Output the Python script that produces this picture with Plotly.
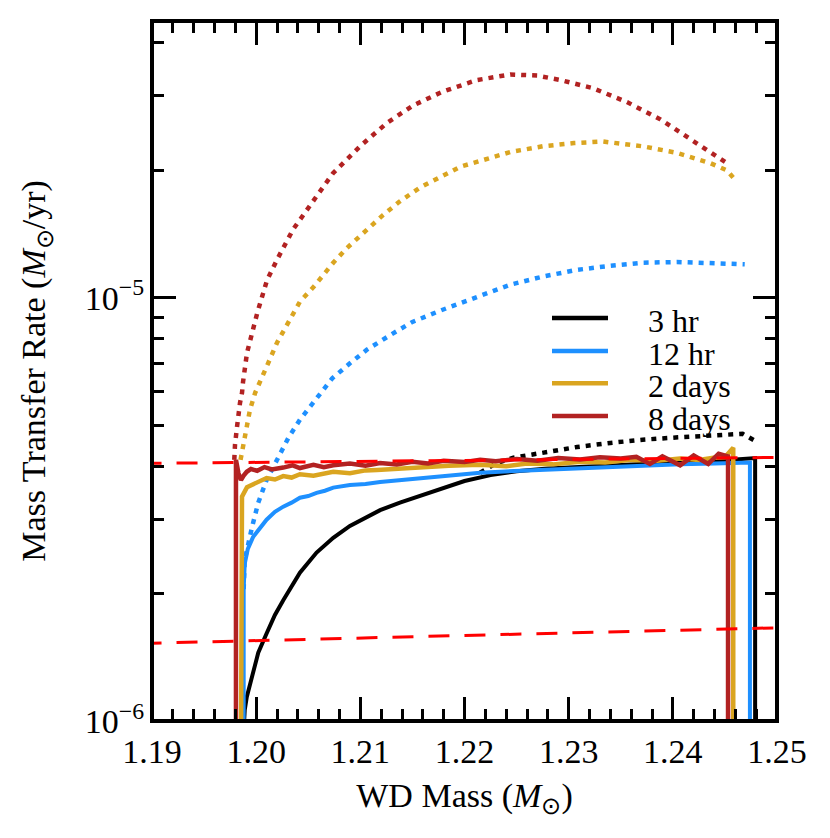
import plotly.graph_objects as go

# ---------------- data ----------------
# 3 hr
hr3_solid_x = [1.1988, 1.1989, 1.1991, 1.1994, 1.1997, 1.2002, 1.2010, 1.2018, 1.2026, 1.2034,
               1.2042, 1.2058, 1.2074, 1.2090, 1.2106, 1.2119, 1.2138, 1.2157, 1.2167, 1.2185,
               1.2200, 1.2225, 1.2250, 1.2280, 1.2320, 1.2360, 1.2400, 1.2450, 1.2478, 1.2479, 1.2479]
hr3_solid_y = [0.95e-6, 1.06e-6, 1.14e-6, 1.22e-6, 1.30e-6, 1.45e-6, 1.61e-6, 1.78e-6, 1.93e-6, 2.08e-6,
               2.24e-6, 2.50e-6, 2.71e-6, 2.89e-6, 3.04e-6, 3.15e-6, 3.28e-6, 3.40e-6, 3.47e-6, 3.59e-6,
               3.69e-6, 3.81e-6, 3.89e-6, 3.95e-6, 4.00e-6, 4.04e-6, 4.08e-6, 4.13e-6, 4.18e-6, 4.18e-6, 0.95e-6]
hr3_dot_x = [1.2215, 1.2230, 1.2247, 1.2280, 1.2308, 1.2340, 1.2371, 1.2405, 1.2436, 1.2467, 1.2479]
hr3_dot_y = [3.86e-6, 4.06e-6, 4.19e-6, 4.32e-6, 4.44e-6, 4.54e-6, 4.62e-6, 4.68e-6, 4.72e-6, 4.77e-6, 4.59e-6]

# 12 hr
hr12_solid_x = [1.1988, 1.1988, 1.1989, 1.1992, 1.1997, 1.2004, 1.2010, 1.2018, 1.2026, 1.2034,
                1.2042, 1.2050, 1.2058, 1.2066, 1.2074, 1.2090, 1.2105, 1.2119, 1.2150, 1.2180,
                1.2215, 1.2260, 1.2311, 1.2360, 1.2407, 1.2440, 1.2471, 1.2474, 1.2474]
hr12_solid_y = [0.95e-6, 2.05e-6, 2.35e-6, 2.55e-6, 2.72e-6, 2.86e-6, 2.99e-6, 3.12e-6, 3.21e-6, 3.28e-6,
                3.37e-6, 3.40e-6, 3.46e-6, 3.50e-6, 3.56e-6, 3.61e-6, 3.63e-6, 3.67e-6, 3.73e-6, 3.80e-6,
                3.86e-6, 3.91e-6, 3.96e-6, 4.00e-6, 4.04e-6, 4.06e-6, 4.08e-6, 4.08e-6, 0.95e-6]
hr12_dot_x = [1.1988, 1.1989, 1.1996, 1.2002, 1.2010, 1.2020, 1.2031, 1.2042, 1.2055, 1.2073,
              1.2090, 1.2106, 1.2130, 1.2150, 1.2179, 1.2212, 1.2244, 1.2275, 1.2308, 1.2340,
              1.2371, 1.2404, 1.2436, 1.2469]
hr12_dot_y = [2.05e-6, 2.40e-6, 2.87e-6, 3.28e-6, 3.71e-6, 4.14e-6, 4.67e-6, 5.15e-6, 5.68e-6, 6.45e-6,
              7.00e-6, 7.53e-6, 8.20e-6, 8.77e-6, 9.37e-6, 1.005e-5, 1.074e-5, 1.122e-5, 1.164e-5, 1.19e-5,
              1.21e-5, 1.215e-5, 1.21e-5, 1.20e-5]

# 2 days
d2_solid_x = [1.19855, 1.19855, 1.19864, 1.19912, 1.2001, 1.2010, 1.2018, 1.2026, 1.2034, 1.2042,
              1.2055, 1.2074, 1.2090, 1.2105, 1.2116, 1.2135, 1.2160, 1.2185, 1.2215, 1.2240,
              1.2260, 1.2285, 1.2311, 1.2335, 1.2360, 1.2385, 1.2407, 1.2425, 1.2439, 1.2450,
              1.2458, 1.2458]
d2_solid_y = [0.95e-6, 3.10e-6, 3.39e-6, 3.57e-6, 3.67e-6, 3.75e-6, 3.72e-6, 3.79e-6, 3.76e-6, 3.83e-6,
              3.80e-6, 3.88e-6, 3.85e-6, 3.91e-6, 3.92e-6, 3.95e-6, 3.97e-6, 4.01e-6, 4.03e-6, 4.00e-6,
              4.06e-6, 4.04e-6, 4.10e-6, 4.08e-6, 4.14e-6, 4.12e-6, 4.17e-6, 4.14e-6, 4.19e-6, 4.20e-6,
              4.42e-6, 0.95e-6]
d2_dot_x = [1.1985, 1.19874, 1.19912, 1.1994, 1.1999, 1.2003, 1.2010, 1.2020, 1.2030, 1.2042,
            1.2055, 1.2074, 1.2087, 1.2106, 1.2122, 1.2138, 1.2157, 1.2196, 1.2244, 1.2275,
            1.2305, 1.2333, 1.2371, 1.2404, 1.2436, 1.2452, 1.2459]
d2_dot_y = [4.14e-6, 4.49e-6, 4.95e-6, 5.43e-6, 5.96e-6, 6.30e-6, 6.87e-6, 7.83e-6, 8.63e-6, 9.79e-6,
            1.06e-5, 1.21e-5, 1.31e-5, 1.45e-5, 1.57e-5, 1.69e-5, 1.82e-5, 2.04e-5, 2.21e-5, 2.28e-5,
            2.32e-5, 2.34e-5, 2.28e-5, 2.20e-5, 2.08e-5, 2.00e-5, 1.91e-5]

# 8 days
d8_solid_x = [1.19806, 1.19806, 1.1983, 1.19854, 1.1988, 1.1991, 1.1995, 1.2001, 1.2008, 1.2015,
              1.2026, 1.2035, 1.2042, 1.2055, 1.2065, 1.2074, 1.2090, 1.2105, 1.2119, 1.2135,
              1.2150, 1.2165, 1.2180, 1.2200, 1.2215, 1.2230, 1.2250, 1.2270, 1.2290, 1.2311,
              1.2330, 1.2350, 1.2365, 1.2378, 1.2390, 1.2407, 1.2420, 1.2434, 1.2444, 1.2453,
              1.2453]
d8_solid_y = [0.95e-6, 4.14e-6, 3.85e-6, 3.71e-6, 3.80e-6, 3.88e-6, 3.94e-6, 3.90e-6, 3.98e-6, 3.93e-6,
              3.97e-6, 4.02e-6, 3.96e-6, 4.03e-6, 3.98e-6, 4.02e-6, 4.06e-6, 4.01e-6, 4.07e-6, 4.04e-6,
              4.10e-6, 4.06e-6, 4.12e-6, 4.09e-6, 4.14e-6, 4.11e-6, 4.16e-6, 4.12e-6, 4.18e-6, 4.15e-6,
              4.20e-6, 4.17e-6, 4.21e-6, 4.05e-6, 4.22e-6, 4.02e-6, 4.24e-6, 4.05e-6, 4.28e-6, 4.22e-6,
              0.95e-6]
d8_dot_x = [1.1979, 1.19797, 1.19816, 1.19826, 1.19845, 1.19864, 1.19874, 1.19912, 1.2001, 1.20104,
            1.2020, 1.20354, 1.20488, 1.20613, 1.20738, 1.20997, 1.21256, 1.2151, 1.2179, 1.2212,
            1.2244, 1.2270, 1.2292, 1.2323, 1.2356, 1.2388, 1.2419, 1.2452]
d8_dot_y = [4.14e-6, 4.50e-6, 4.95e-6, 5.29e-6, 5.65e-6, 5.96e-6, 6.33e-6, 7.41e-6, 9.20e-6, 1.10e-5,
            1.23e-5, 1.45e-5, 1.61e-5, 1.77e-5, 1.97e-5, 2.28e-5, 2.59e-5, 2.85e-5, 3.07e-5, 3.27e-5,
            3.37e-5, 3.35e-5, 3.27e-5, 3.13e-5, 2.90e-5, 2.64e-5, 2.36e-5, 2.08e-5]

# red dashed reference lines
limit_x = [1.1889, 1.2520]
limit_upper_y = [4.06e-6, 4.20e-6]
limit_lower_y = [1.525e-6, 1.665e-6]

series_names = ["3 hr", "12 hr", "2 days", "8 days"]
series_colors = ["#000000", "#1E90FF", "#DAA520", "#B22222"]

x_major_ticks = [1.19, 1.20, 1.21, 1.22, 1.23, 1.24, 1.25]
x_tick_labels = ["1.19", "1.20", "1.21", "1.22", "1.23", "1.24", "1.25"]
y_major_ticks = [1e-6, 1e-5]
y_tick_labels = ["10<sup>\u22126</sup>", "10<sup>\u22125</sup>"]
y_minor_ticks = [2e-6, 3e-6, 4e-6, 5e-6, 6e-6, 7e-6, 8e-6, 9e-6, 2e-5, 3e-5, 4e-5]
x_minor_ticks = [round(1.19 + 0.002 * i, 3) for i in range(31) if i % 5 != 0]

# ---------------- figure ----------------
FONT = "Liberation Serif"
fig = go.Figure()

solids = [(hr3_solid_x, hr3_solid_y), (hr12_solid_x, hr12_solid_y),
          (d2_solid_x, d2_solid_y), (d8_solid_x, d8_solid_y)]
dots = [(hr3_dot_x, hr3_dot_y), (hr12_dot_x, hr12_dot_y),
        (d2_dot_x, d2_dot_y), (d8_dot_x, d8_dot_y)]
solid_w = [4, 4, 4.5, 4.5]

for i in range(4):
    sx, sy = solids[i]
    dx, dy = dots[i]
    fig.add_trace(go.Scatter(x=dx, y=dy, mode="lines", name=series_names[i] + " (dotted)",
                             line=dict(color=series_colors[i], width=4.5, dash="5px,6px"),
                             showlegend=False, hoverinfo="skip"))
    fig.add_trace(go.Scatter(x=sx, y=sy, mode="lines", name=series_names[i],
                             line=dict(color=series_colors[i], width=solid_w[i]),
                             showlegend=False))

for ly in (limit_upper_y, limit_lower_y):
    fig.add_trace(go.Scatter(x=limit_x, y=ly, mode="lines",
                             line=dict(color="#FF0000", width=3, dash="21px,15px"),
                             showlegend=False, hoverinfo="skip"))

# manual legend (long line samples like the reference)
leg_rows_y = [0.5757, 0.5286, 0.4824, 0.4357]
shapes = []
annotations = []
for i in range(4):
    shapes.append(dict(type="line", xref="paper", yref="paper", x0=0.64, x1=0.7296,
                       y0=leg_rows_y[i], y1=leg_rows_y[i],
                       line=dict(color=series_colors[i], width=4.5)))
    annotations.append(dict(xref="paper", yref="paper", x=0.7904, y=leg_rows_y[i] - 0.004,
                            xanchor="left", yanchor="middle", showarrow=False,
                            text=series_names[i], font=dict(family=FONT, size=32, color="black")))

# frame
shapes.append(dict(type="rect", xref="paper", yref="paper", x0=0, x1=1, y0=0, y1=1,
                   line=dict(color="black", width=4), layer="above"))

axis_common = dict(showgrid=False, zeroline=False, showline=True, linecolor="black", linewidth=1,
                   ticks="inside", mirror="ticks", tickcolor="black", ticklen=24, tickwidth=2.5,
                   tickfont=dict(family=FONT, size=34, color="black"))

# the page body adds an 8px offset, margins compensate for it
fig.update_layout(
    width=830, height=838,
    margin=dict(l=144, r=61, t=13, b=125, autoexpand=False),
    paper_bgcolor="white", plot_bgcolor="white",
    shapes=shapes, annotations=annotations,
    xaxis=dict(range=[1.19, 1.25], tickmode="array", tickvals=x_major_ticks, ticktext=x_tick_labels,
               minor=dict(tickmode="array", tickvals=x_minor_ticks, ticks="inside", ticklen=12,
                          tickwidth=2.5, tickcolor="black"),
               title=dict(text="WD Mass (<i>M</i><sub>\u2299</sub>)", standoff=14,
                          font=dict(family=FONT, size=34, color="black")),
               automargin=False, **axis_common),
    yaxis=dict(type="log", range=[-6, -4.346], tickmode="array", tickvals=y_major_ticks,
               ticktext=y_tick_labels,
               minor=dict(tickmode="array", tickvals=y_minor_ticks, ticks="inside", ticklen=12,
                          tickwidth=2.5, tickcolor="black"),
               title=dict(text="Mass Transfer Rate (<i>M</i><sub>\u2299</sub>/yr)", standoff=28,
                          font=dict(family=FONT, size=34, color="black")),
               automargin=False, **axis_common),
)

fig.write_html("out.html")
